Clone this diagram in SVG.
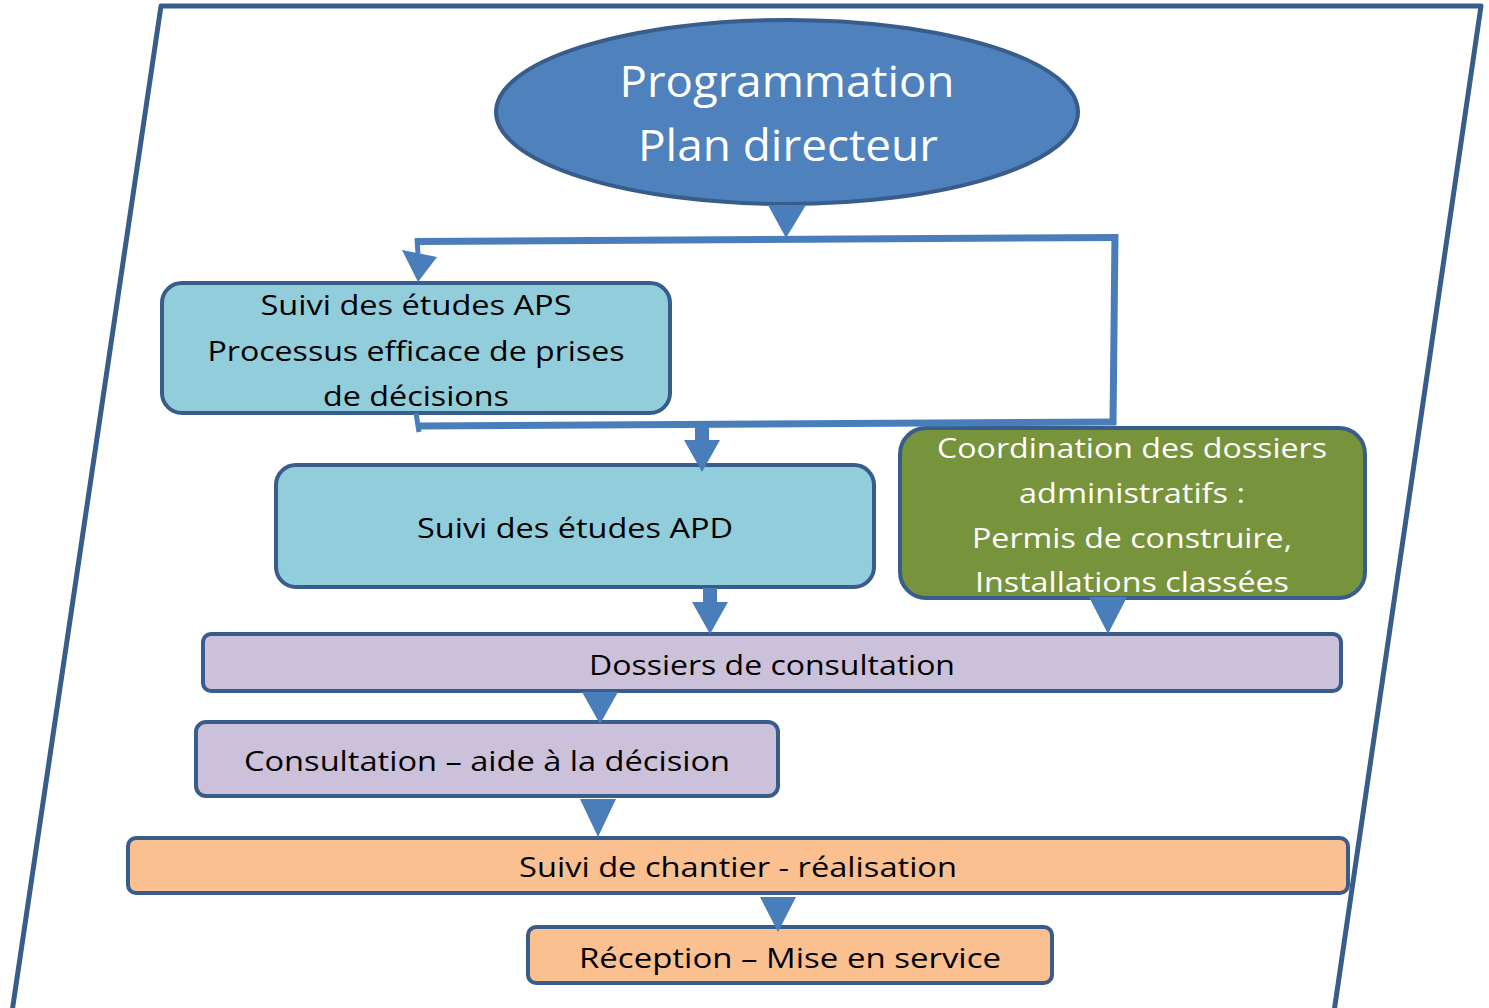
<svg xmlns="http://www.w3.org/2000/svg" width="1489" height="1008" viewBox="0 0 1489 1008">
<style>
.box{stroke:#385d8a;stroke-width:4}
.t{font-family:"Open Sans","Noto Sans",sans-serif;font-size:28px;fill:#000;text-anchor:middle}
.w{fill:#fff}
.big{font-size:43px}
.conn{fill:#4a7ebb;stroke:none}
.line{stroke:#4a7ebb;stroke-width:7;fill:none}
</style>
<rect x="0" y="0" width="1489" height="1008" fill="#fff"/>
<polygon id="frame" points="161,6 1481,6 1334,1012 12,1012" fill="#fff" stroke="#385d8a" stroke-width="5" stroke-linejoin="round"/>

<g id="programmation">
<ellipse class="box" cx="787" cy="112" rx="291" ry="92" fill="#4f81bd"/>
<text class="t w big" x="787" y="97" textLength="335" lengthAdjust="spacingAndGlyphs">Programmation</text>
<text class="t w big" x="788" y="161" textLength="300" lengthAdjust="spacingAndGlyphs">Plan directeur</text>
</g>

<g id="aps">
<rect class="box" x="162" y="283" width="508" height="130" rx="20" fill="#92cddc"/>
<text class="t" x="416" y="315" textLength="311" lengthAdjust="spacingAndGlyphs">Suivi des études APS</text>
<text class="t" x="416" y="361" textLength="417" lengthAdjust="spacingAndGlyphs">Processus efficace de prises</text>
<text class="t" x="416" y="406" textLength="186" lengthAdjust="spacingAndGlyphs">de décisions</text>
</g>

<g id="apd">
<rect class="box" x="276" y="465" width="598" height="122" rx="20" fill="#92cddc"/>
<text class="t" x="575" y="538" textLength="316" lengthAdjust="spacingAndGlyphs">Suivi des études APD</text>
</g>

<g id="coordination">
<rect class="box" x="900" y="428" width="465" height="170" rx="26" fill="#77933c"/>
<text class="t w" x="1132" y="458" textLength="390" lengthAdjust="spacingAndGlyphs">Coordination des dossiers</text>
<text class="t w" x="1132" y="503" textLength="226" lengthAdjust="spacingAndGlyphs">administratifs :</text>
<text class="t w" x="1132" y="548" textLength="320" lengthAdjust="spacingAndGlyphs">Permis de construire,</text>
<text class="t w" x="1132" y="592" textLength="314" lengthAdjust="spacingAndGlyphs">Installations classées</text>
</g>

<g id="dossiers">
<rect class="box" x="203" y="634" width="1138" height="57" rx="8" fill="#ccc1da"/>
<text class="t" x="772" y="675" textLength="366" lengthAdjust="spacingAndGlyphs">Dossiers de consultation</text>
</g>

<g id="consultation">
<rect class="box" x="196" y="722" width="582" height="74" rx="10" fill="#ccc1da"/>
<text class="t" x="487" y="771" textLength="486" lengthAdjust="spacingAndGlyphs">Consultation – aide à la décision</text>
</g>

<g id="chantier">
<rect class="box" x="128" y="838" width="1220" height="55" rx="8" fill="#fac090"/>
<text class="t" x="738" y="877" textLength="438" lengthAdjust="spacingAndGlyphs">Suivi de chantier - réalisation</text>
</g>

<g id="reception">
<rect class="box" x="528" y="927" width="524" height="56" rx="8" fill="#fac090"/>
<text class="t" x="790" y="968" textLength="422" lengthAdjust="spacingAndGlyphs">Réception – Mise en service</text>
</g>

<g id="connectors">
<polygon class="conn" points="768,205 806,205 786,238"/>
<line class="line" x1="418" y1="241.5" x2="1118" y2="237.5"/>
<line class="line" x1="1115" y1="234" x2="1113" y2="425"/>
<line class="line" x1="1116" y1="422" x2="418" y2="426"/>
<line class="line" x1="416" y1="413" x2="419" y2="432" style="stroke-width:5"/>
<line class="line" x1="417" y1="238" x2="418" y2="254" style="stroke-width:5"/>
<polygon class="conn" points="402,250 437,257 418,282"/>
<rect class="conn" x="695" y="424" width="14" height="18"/>
<polygon class="conn" points="684,440 720,440 702,472"/>
<rect class="conn" x="703" y="588" width="14" height="16"/>
<polygon class="conn" points="692,602 728,602 710,634"/>
<polygon class="conn" points="1089,597 1127,597 1108,634"/>
<polygon class="conn" points="582,692 618,692 600,724"/>
<polygon class="conn" points="580,799 616,799 598,837"/>
<polygon class="conn" points="760,897 796,897 778,932"/>
</g>
</svg>
